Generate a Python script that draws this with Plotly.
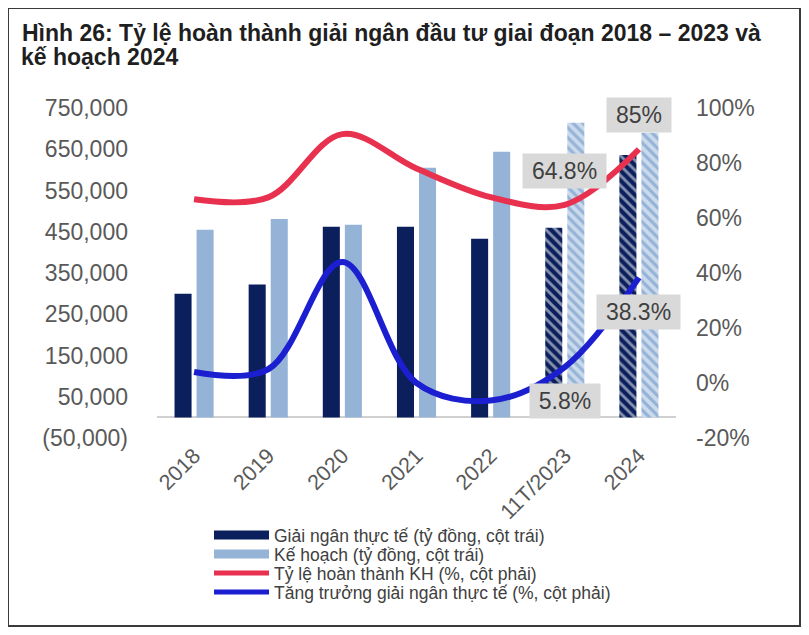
import plotly.graph_objects as go

categories = ["2018", "2019", "2020", "2021", "2022", "11T/2023", "2024"]
actual = [300000, 322000, 462000, 462000, 433000, 460000, 636000]
plan = [455000, 481000, 467000, 605000, 644000, 714000, 690000]
completion = [0.668, 0.675, 0.905, 0.78, 0.676, 0.648, 0.85]
growth = [0.04, 0.05, 0.44, 0.0, -0.064, 0.058, 0.383]
patterns = ["", "", "", "", "", "\\", "\\"]

left_ticks = [-50000, 50000, 150000, 250000, 350000, 450000, 550000, 650000, 750000]
left_text = ["(50,000)" if v < 0 else f"{v:,}" for v in left_ticks]
right_ticks = [-0.2, 0, 0.2, 0.4, 0.6, 0.8, 1.0]
right_text = ["-20%", "0%", "20%", "40%", "60%", "80%", "100%"]

# (category, value, text, vertical offset, box width)
labels = [("11T/2023", 0.648, "64.8%", 34, 83), ("2024", 0.85, "85%", 34, 64),
          ("2024", 0.383, "38.3%", -34, 83), ("11T/2023", 0.058, "5.8%", -34, 70)]

NAVY = "#0a1f5c"
LIGHT = "#95b3d7"
RED = "#e8304f"
BLUE = "#1c1fcf"
GRAY = "#595959"
FONT = "Liberation Sans, Arial, sans-serif"

W, H = 793, 619          # page body has an 8px margin
OFF = 8
L, R, T, B = 149, 668, 100, 430


def px(xs):  # screen pixel -> paper x
    return (xs - OFF - L) / (R - L)


def py(ys):  # screen pixel -> paper y
    return (B - (ys - OFF)) / (B - T)


fig = go.Figure()
fig.add_bar(x=categories, y=actual, marker=dict(color=NAVY, line_width=0,
            pattern=dict(shape=patterns, fgcolor="white", fillmode="overlay", size=7, solidity=0.42)),
            showlegend=False)
fig.add_bar(x=categories, y=plan, marker=dict(color=LIGHT, line_width=0,
            pattern=dict(shape=patterns, fgcolor="white", fillmode="overlay", size=7, solidity=0.55)),
            showlegend=False)
fig.add_scatter(x=categories, y=completion, yaxis="y2", mode="lines",
                line=dict(color=RED, width=6, shape="spline"), showlegend=False, cliponaxis=False)
fig.add_scatter(x=categories, y=growth, yaxis="y2", mode="lines",
                line=dict(color=BLUE, width=6, shape="spline"), showlegend=False, cliponaxis=False)

# legend entries, one legend per row for exact spacing
legend_rows = [("Giải ngân thực tế (tỷ đồng, cột trái)", NAVY, 9, 535),
               ("Kế hoạch (tỷ đồng, cột trái)", LIGHT, 9, 554),
               ("Tỷ lệ hoàn thành KH (%, cột phải)", RED, 5, 573),
               ("Tăng trưởng giải ngân thực tế (%, cột phải)", BLUE, 5, 592)]
legend_layout = {}
for i, (name, col, w, yrow) in enumerate(legend_rows):
    key = "legend" if i == 0 else f"legend{i + 1}"
    fig.add_scatter(x=[None], y=[None], mode="lines", name=name, legend=key,
                    line=dict(color=col, width=w))
    legend_layout[key] = dict(x=px(209), y=py(yrow), xanchor="left", yanchor="middle",
                              bgcolor="rgba(0,0,0,0)", font=dict(size=17.5, color="#404040"),
                              itemwidth=55)

for cat, val, txt, shift, bw in labels:
    fig.add_annotation(x=categories.index(cat), y=val, yref="y2", text=txt, showarrow=False,
                       yshift=shift, bgcolor="#d9d9d9", borderpad=6, width=bw - 12, height=22,
                       font=dict(size=23, color="#404040", family=FONT))

# second title line
fig.add_annotation(text="<b>kế hoạch 2024</b>", xref="paper", yref="paper",
                   x=px(19), y=py(42), xanchor="left", yanchor="top", showarrow=False,
                   font=dict(size=23, color="#1f1f1f", family=FONT))

# frame
fig.add_shape(type="rect", xref="paper", yref="paper", x0=px(8), x1=px(800), y0=py(8), y1=py(626),
              line=dict(color="#3a3a3a", width=2), fillcolor="rgba(0,0,0,0)", layer="below")

fig.update_layout(
    width=W, height=H,
    margin=dict(l=L, r=W - R, t=T, b=H - B),
    paper_bgcolor="white", plot_bgcolor="white",
    font=dict(family=FONT, color=GRAY),
    title=dict(text="Hình 26: Tỷ lệ hoàn thành giải ngân đầu tư giai đoạn 2018 – 2023 và",
               x=(22 - OFF) / W, xanchor="left", xref="container",
               y=1 - (25 - OFF) / H, yanchor="top", yref="container",
               font=dict(size=23, color="#1f1f1f", family=FONT, weight="bold")),
    barmode="group", bargap=0.405, bargroupgap=0.227,
    xaxis=dict(type="category", range=[-0.5, 6.5], tickangle=-45,
               tickfont=dict(size=21.5, color=GRAY), showline=False, showgrid=False, ticks=""),
    yaxis=dict(range=[-50000, 750000], tickvals=left_ticks, ticktext=left_text,
               tickfont=dict(size=23, color=GRAY), showgrid=False, zeroline=True,
               zerolinecolor="#d0d0d0", zerolinewidth=2, ticklabelstandoff=28, showline=False),
    yaxis2=dict(range=[-0.2, 1.0], tickvals=right_ticks, ticktext=right_text, overlaying="y",
                side="right", tickfont=dict(size=23, color=GRAY), showgrid=False, zeroline=False,
                ticklabelstandoff=19, showline=False),
    **legend_layout,
)

fig.write_html("out.html")
